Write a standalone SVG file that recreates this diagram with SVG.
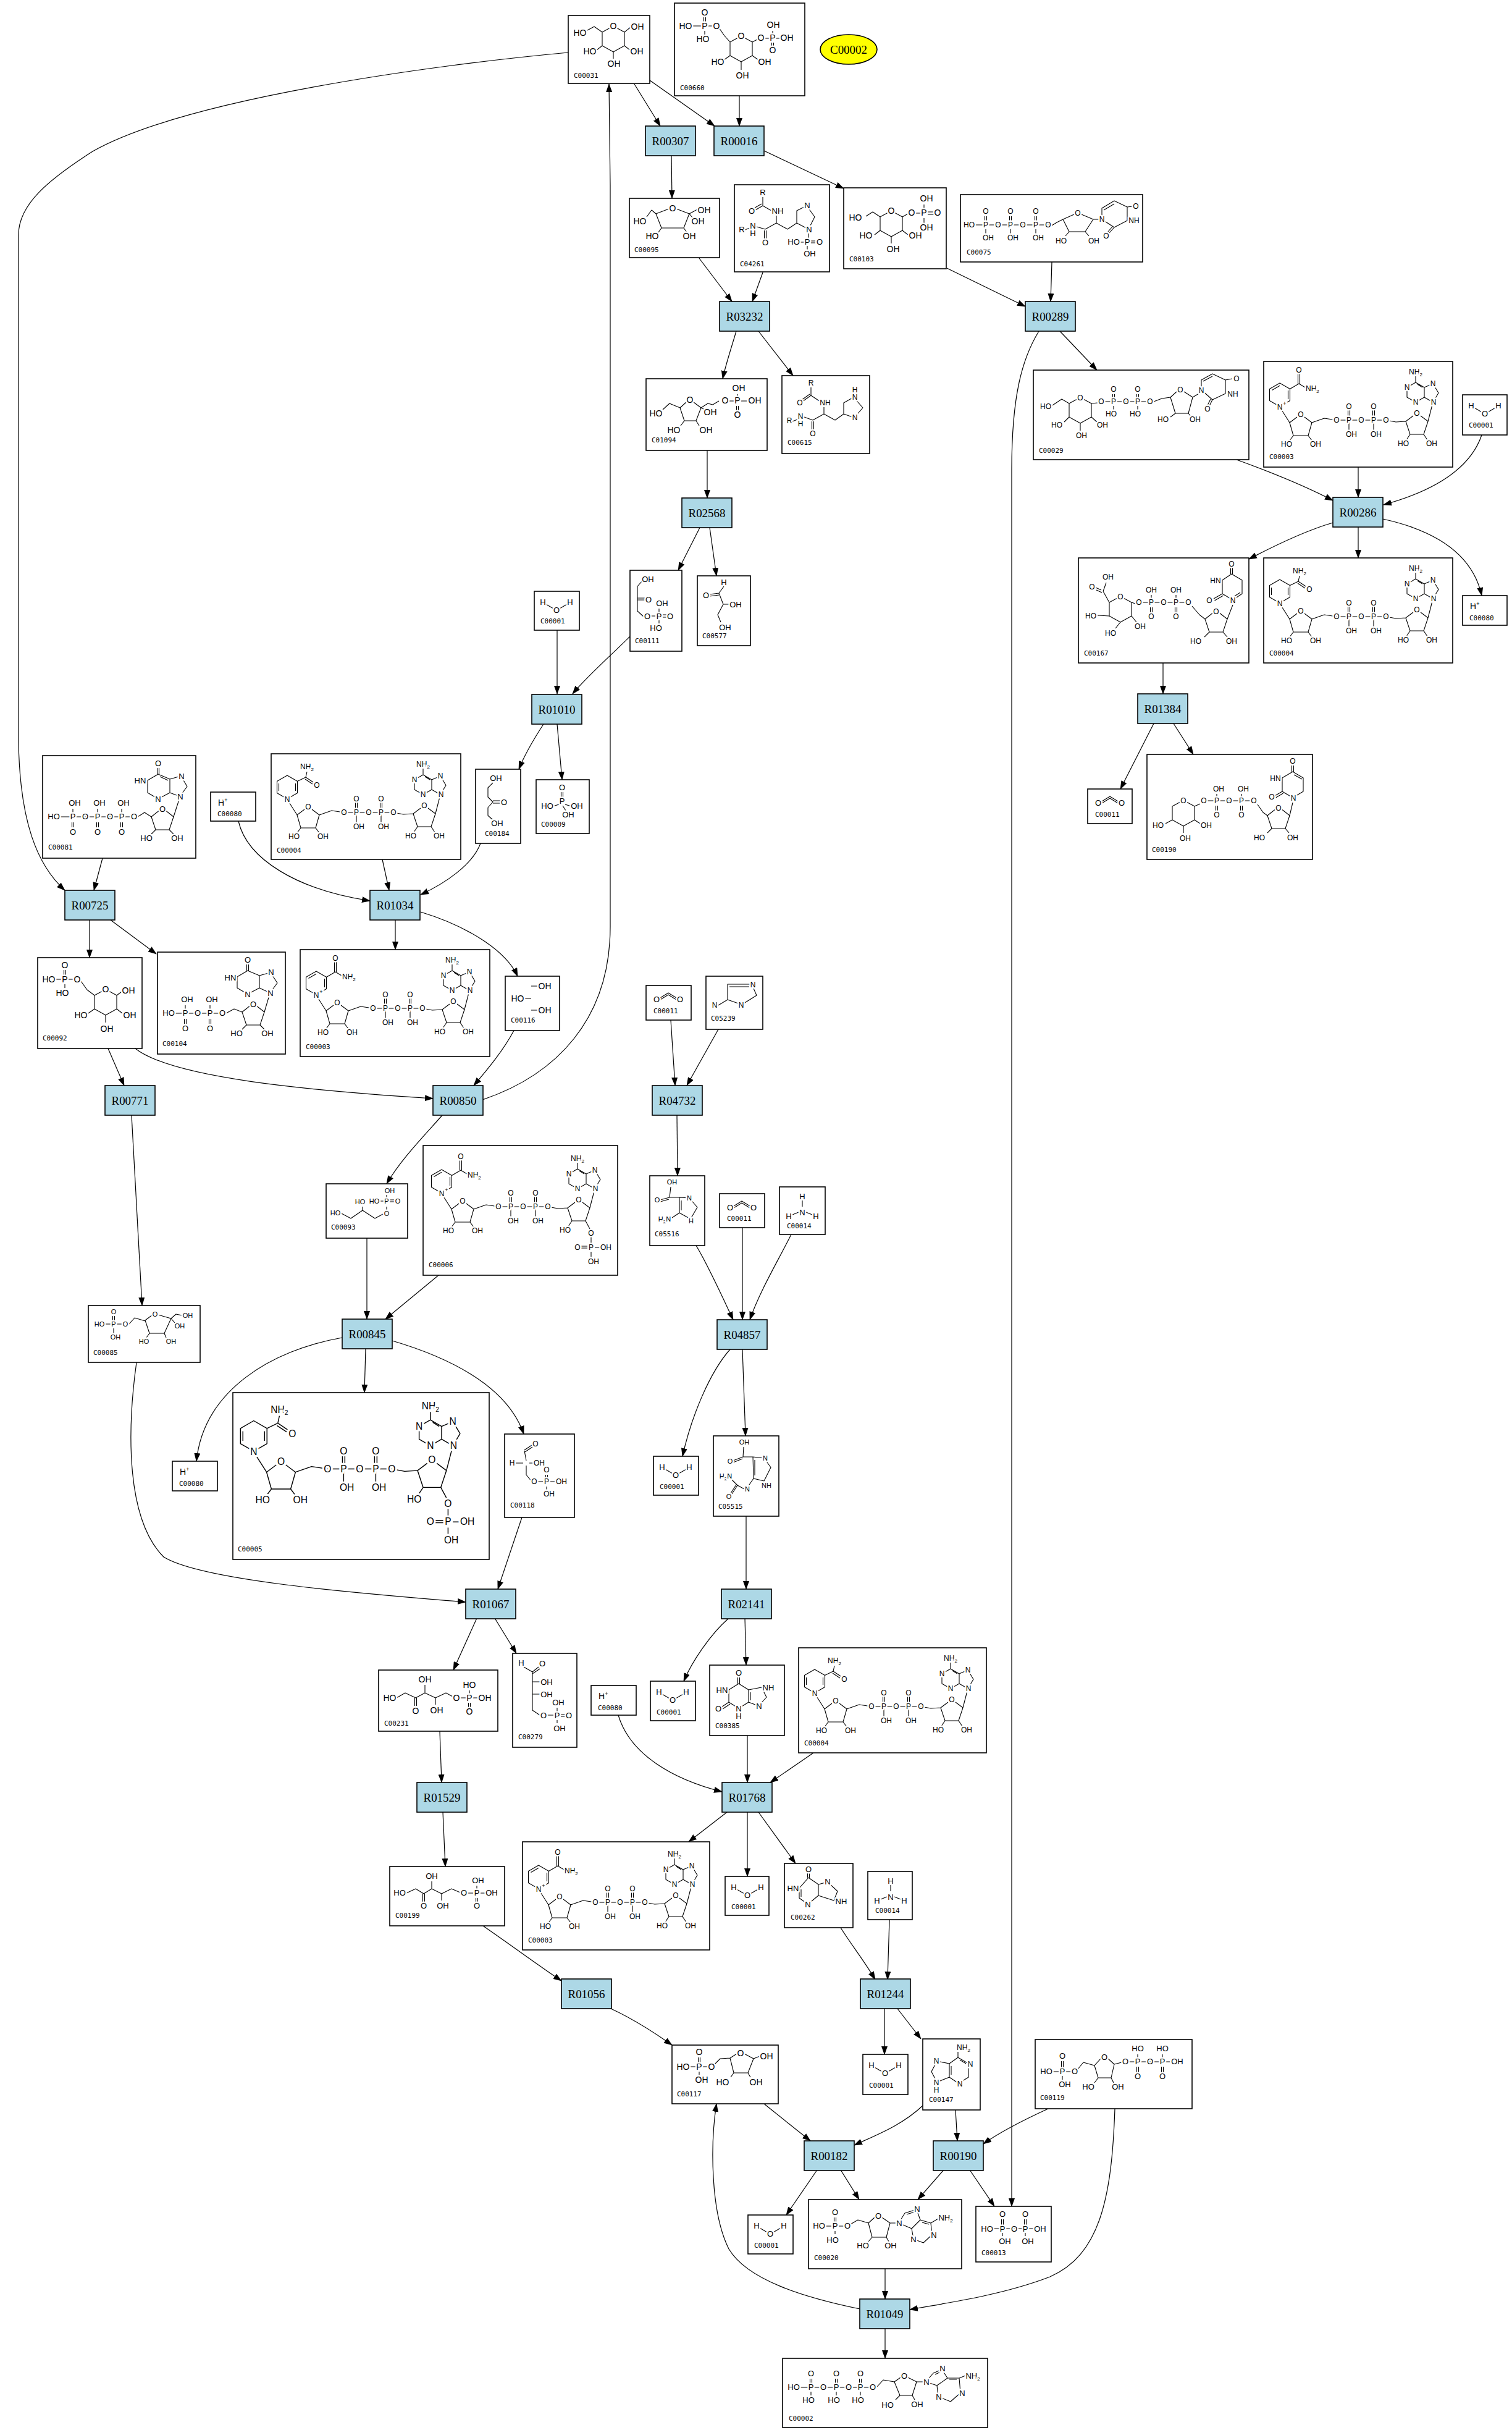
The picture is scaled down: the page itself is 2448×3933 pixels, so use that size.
<svg xmlns="http://www.w3.org/2000/svg" xmlns:xlink="http://www.w3.org/1999/xlink" width="2448" height="3933" viewBox="0 0 2448 3933">
<style>
.c{fill:#fff;stroke:#000;stroke-width:1.6}
.r{fill:#add8e6;stroke:#000;stroke-width:1.6}
.rt{font-family:"Liberation Serif","Times New Roman",serif;font-size:19px;text-anchor:middle;fill:#000}
.id{font-family:"DejaVu Sans Mono","Liberation Mono",monospace;font-size:11px;fill:#000}
.s{font-family:"Liberation Sans",Arial,sans-serif;text-anchor:middle;stroke:#fff;stroke-width:5px;stroke-linejoin:round;paint-order:stroke}
.s path{fill:none;stroke:#000;stroke-width:1.1px}
.e path{fill:none;stroke:#000;stroke-width:1.2px;marker-end:url(#ah)}
</style>
<defs>
<marker id="ah" markerWidth="14" markerHeight="10" refX="13" refY="5" orient="auto" markerUnits="userSpaceOnUse"><path d="M0,0L14,5L0,10Z" fill="#000" stroke="none"/></marker>
<g id="pyr"><path fill="none" stroke="#000" stroke-width="1.1" d="M12,3.5L0,10V32L18,42L36,32V10L24,3.5"/><text x="18" y="5" text-anchor="middle">O</text></g>
<g id="fur"><path fill="none" stroke="#000" stroke-width="1.1" d="M12,3.5L0,13L7,34H29L36,13L24,3.5"/><text x="18" y="5" text-anchor="middle">O</text></g>
<g id="water" font-size="13" text-anchor="middle"><path fill="none" stroke="#000" stroke-width="1.1" d="M19,21L31,28M41,28L53,21"/><text x="14" y="22">H</text><text x="36" y="35">O</text><text x="58" y="22">H</text></g>
<g id="hplus"><text x="12" y="22" font-size="14" text-anchor="start">H<tspan dy="-6" font-size="9">+</tspan></text></g>
<g id="co2" font-size="13" text-anchor="middle"><path fill="none" stroke="#000" stroke-width="1.1" d="M23,20L36,12L49,20M23,23L36,15L49,23"/><text x="17" y="27">O</text><text x="55" y="27">O</text></g>
<g id="nh3" font-size="13" text-anchor="middle"><path fill="none" stroke="#000" stroke-width="1.1" d="M37,22V32M21,45L31,41M43,41L53,45"/><text x="37" y="20">H</text><text x="37" y="46">N</text><text x="15" y="52">H</text><text x="59" y="52">H</text></g>
<g id="dn" font-size="12" text-anchor="middle"><path fill="none" stroke="#000" stroke-width="1.1" d="M54,90L42,99L48,120H72L78,99L66,90M48,120L42,128M72,120L78,128M78,99L98,92L118,95H198M136.5,95V79M139.5,95V79M176.5,95V79M179.5,95V79M138,95V112M178,95V112M198,95L214,98L230,97M242,88L230,97L237,118H259L266,97L254,88M237,118L231,127M266,97L274,66M246,34L232,42V58L246,66L260,58V42ZM260,42L274,36L283,51L274,66L260,58M246,34V24M249,37L257,42"/><text x="60" y="90">O</text><text x="37" y="138">HO</text><text x="84" y="138">OH</text><text x="118" y="99">O</text><text x="138" y="99">P</text><text x="158" y="99">O</text><text x="178" y="99">P</text><text x="198" y="99">O</text><text x="138" y="77">O</text><text x="178" y="77">O</text><text x="142" y="122">OH</text><text x="182" y="122">OH</text><text x="248" y="88">O</text><text x="226" y="137">HO</text><text x="232" y="46">N</text><text x="246" y="70">N</text><text x="274" y="40">N</text><text x="275" y="70">N</text><text x="246" y="21">NH<tspan font-size="8" dy="3">2</tspan></text></g>
<g id="hp" font-size="12" text-anchor="middle"><path fill="none" stroke="#000" stroke-width="1.1" d="M26,35L42.5,44.5V63.5L26,73L9.5,63.5V44.5ZM13.5,46.5L26,39.3M39.5,47V61M42.5,44.5L57,36M55.5,36V20M58.5,36V20M57,36L67,42M28,77L42,99"/><text x="57" y="18">O</text><text x="68" y="48" text-anchor="start">NH<tspan font-size="8" dy="3">2</tspan></text><text x="26" y="78">N</text><text x="34" y="71" font-size="9">+</text></g>
<g id="hh" font-size="12" text-anchor="middle"><path fill="none" stroke="#000" stroke-width="1.1" d="M26,35L42.5,44.5V63.5L26,73L9.5,63.5V44.5ZM12.5,48V60M39.5,48V60M42.5,44.5L56,38L58,29M56,38L68,46M55,41L67,49M28,77L42,99"/><text x="58" y="25">NH<tspan font-size="8" dy="3">2</tspan></text><text x="74" y="55">O</text><text x="26" y="78">N</text></g>
<g id="oh2" font-size="12" text-anchor="middle"><path fill="none" stroke="#000" stroke-width="1.1" d="M259,118L265,127"/><text x="272" y="137">OH</text></g>
<g id="pbr" font-size="12" text-anchor="middle"><path fill="none" stroke="#000" stroke-width="1.1" d="M259,118L266,131M268,144V155M252,159H262M252,162H262M274,161H282M268,168V176"/><text x="268" y="142">O</text><text x="268" y="165">P</text><text x="246" y="165">O</text><text x="292" y="165">OH</text><text x="272" y="188">OH</text></g>
<g id="nad"><use href="#hp"/><use href="#dn"/><use href="#oh2"/></g>
<g id="nadh"><use href="#hh"/><use href="#dn"/><use href="#oh2"/></g>
<g id="nadpp"><use href="#hp"/><use href="#dn"/><use href="#pbr"/></g>
<g id="nadph"><use href="#hh"/><use href="#dn"/><use href="#pbr"/></g>
</defs>
<rect width="2448" height="3933" fill="#fff"/>
<g id="edges" class="e">
<path d="M1027,136L1069,204"/>
<path d="M1052,130L1157,204"/>
<path d="M1197,155L1197,204"/>
<path d="M781,1780C900,1740 988,1650 988,1500L988,300L986,136"/>
<path d="M920,85C700,105 300,160 150,245C80,290 30,330 30,380L30,1200C32,1330 60,1400 105,1441"/>
<path d="M1087,251L1088,321"/>
<path d="M1237,244L1366,305"/>
<path d="M1132,418L1185,488"/>
<path d="M1235,441L1218,488"/>
<path d="M1533,434L1660,496"/>
<path d="M1703,424L1701,488"/>
<path d="M1192,536C1185,560 1175,590 1170,613"/>
<path d="M1228,536L1284,608"/>
<path d="M1716,536L1776,599"/>
<path d="M1682,536C1655,580 1638,640 1638,760L1638,3571"/>
<path d="M2002,744C2060,765 2110,785 2158,810"/>
<path d="M2199,756L2199,805"/>
<path d="M2399,704C2380,760 2320,795 2240,817"/>
<path d="M2158,846C2110,860 2060,885 2022,905"/>
<path d="M2199,853L2199,903"/>
<path d="M2239,840C2330,860 2385,900 2399,964"/>
<path d="M1883,1073L1883,1123"/>
<path d="M1868,1171L1814,1277"/>
<path d="M1900,1171L1932,1221"/>
<path d="M1145,729L1145,806"/>
<path d="M1133,854L1098,923"/>
<path d="M1149,854L1160,932"/>
<path d="M902,1020L902,1123"/>
<path d="M1020,1030C990,1060 950,1095 927,1123"/>
<path d="M880,1172C865,1195 850,1220 840,1245"/>
<path d="M902,1172L910,1262"/>
<path d="M166,1389L152,1441"/>
<path d="M386,1329C400,1390 480,1440 599,1458"/>
<path d="M619,1391L630,1441"/>
<path d="M778,1365C765,1400 720,1430 681,1448"/>
<path d="M145,1489L145,1550"/>
<path d="M179,1489L253,1544"/>
<path d="M640,1489L640,1537"/>
<path d="M681,1476C760,1500 820,1540 838,1580"/>
<path d="M175,1697L201,1757"/>
<path d="M219,1697C280,1745 500,1765 701,1778"/>
<path d="M832,1668C815,1700 790,1730 767,1757"/>
<path d="M716,1805C690,1835 650,1875 626,1916"/>
<path d="M213,1805L230,2113"/>
<path d="M594,2004L594,2135"/>
<path d="M710,2064L624,2135"/>
<path d="M554,2165C440,2185 330,2250 318,2365"/>
<path d="M592,2183L590,2254"/>
<path d="M635,2170C720,2195 820,2240 848,2321"/>
<path d="M221,2205C205,2320 205,2460 265,2520C330,2560 600,2580 754,2593"/>
<path d="M845,2456L806,2572"/>
<path d="M772,2619L734,2703"/>
<path d="M801,2619L836,2676"/>
<path d="M712,2802L715,2885"/>
<path d="M717,2933L721,3021"/>
<path d="M782,3117C830,3150 870,3180 909,3206"/>
<path d="M989,3251C1030,3270 1060,3290 1088,3310"/>
<path d="M1086,1651L1093,1757"/>
<path d="M1163,1666L1112,1757"/>
<path d="M1096,1805L1097,1903"/>
<path d="M1127,2016C1145,2045 1170,2100 1187,2136"/>
<path d="M1202,1987L1202,2136"/>
<path d="M1281,1998C1260,2040 1230,2090 1214,2136"/>
<path d="M1182,2184C1150,2220 1120,2290 1105,2357"/>
<path d="M1202,2184L1207,2324"/>
<path d="M1208,2454L1208,2572"/>
<path d="M1180,2619C1150,2645 1120,2690 1107,2721"/>
<path d="M1206,2619L1208,2695"/>
<path d="M1001,2776C1020,2840 1090,2880 1169,2900"/>
<path d="M1210,2809L1210,2885"/>
<path d="M1317,2837L1247,2885"/>
<path d="M1177,2933L1115,2981"/>
<path d="M1210,2933L1210,3037"/>
<path d="M1228,2933L1288,3016"/>
<path d="M1361,3120C1380,3150 1400,3175 1417,3204"/>
<path d="M1440,3107L1437,3204"/>
<path d="M1432,3251L1432,3325"/>
<path d="M1453,3251L1491,3300"/>
<path d="M1237,3405L1312,3465"/>
<path d="M1494,3408C1460,3440 1420,3455 1383,3472"/>
<path d="M1547,3415L1550,3465"/>
<path d="M1697,3413C1660,3430 1620,3450 1592,3470"/>
<path d="M1323,3512L1273,3585"/>
<path d="M1361,3512L1391,3560"/>
<path d="M1528,3512L1486,3560"/>
<path d="M1570,3512L1610,3571"/>
<path d="M1433,3672L1433,3721"/>
<path d="M1805,3413C1800,3560 1780,3650 1700,3685C1630,3712 1550,3725 1473,3738"/>
<path d="M1392,3737C1300,3718 1210,3690 1180,3640C1150,3580 1150,3470 1160,3405"/>
<path d="M1433,3768L1433,3817"/>
</g>
<g id="R00307"><rect class="r" x="1045" y="204" width="81" height="48"/><text class="rt" x="1085.5" y="235" textLength="60" lengthAdjust="spacingAndGlyphs">R00307</text></g>
<g id="R00016"><rect class="r" x="1156" y="204" width="81" height="48"/><text class="rt" x="1196.5" y="235" textLength="60" lengthAdjust="spacingAndGlyphs">R00016</text></g>
<g id="R03232"><rect class="r" x="1165" y="488" width="81" height="48"/><text class="rt" x="1205.5" y="519" textLength="60" lengthAdjust="spacingAndGlyphs">R03232</text></g>
<g id="R00289"><rect class="r" x="1660" y="488" width="81" height="48"/><text class="rt" x="1700.5" y="519" textLength="60" lengthAdjust="spacingAndGlyphs">R00289</text></g>
<g id="R02568"><rect class="r" x="1104" y="806" width="81" height="48"/><text class="rt" x="1144.5" y="837" textLength="60" lengthAdjust="spacingAndGlyphs">R02568</text></g>
<g id="R00286"><rect class="r" x="2158" y="805" width="81" height="48"/><text class="rt" x="2198.5" y="836" textLength="60" lengthAdjust="spacingAndGlyphs">R00286</text></g>
<g id="R01010"><rect class="r" x="861" y="1124" width="81" height="48"/><text class="rt" x="901.5" y="1155" textLength="60" lengthAdjust="spacingAndGlyphs">R01010</text></g>
<g id="R01384"><rect class="r" x="1842" y="1123" width="81" height="48"/><text class="rt" x="1882.5" y="1154" textLength="60" lengthAdjust="spacingAndGlyphs">R01384</text></g>
<g id="R00725"><rect class="r" x="105" y="1441" width="81" height="48"/><text class="rt" x="145.5" y="1472" textLength="60" lengthAdjust="spacingAndGlyphs">R00725</text></g>
<g id="R01034"><rect class="r" x="599" y="1441" width="81" height="48"/><text class="rt" x="639.5" y="1472" textLength="60" lengthAdjust="spacingAndGlyphs">R01034</text></g>
<g id="R00771"><rect class="r" x="170" y="1757" width="81" height="48"/><text class="rt" x="210.5" y="1788" textLength="60" lengthAdjust="spacingAndGlyphs">R00771</text></g>
<g id="R00850"><rect class="r" x="701" y="1757" width="81" height="48"/><text class="rt" x="741.5" y="1788" textLength="60" lengthAdjust="spacingAndGlyphs">R00850</text></g>
<g id="R04732"><rect class="r" x="1056" y="1757" width="81" height="48"/><text class="rt" x="1096.5" y="1788" textLength="60" lengthAdjust="spacingAndGlyphs">R04732</text></g>
<g id="R00845"><rect class="r" x="554" y="2135" width="81" height="48"/><text class="rt" x="594.5" y="2166" textLength="60" lengthAdjust="spacingAndGlyphs">R00845</text></g>
<g id="R04857"><rect class="r" x="1161" y="2136" width="81" height="48"/><text class="rt" x="1201.5" y="2167" textLength="60" lengthAdjust="spacingAndGlyphs">R04857</text></g>
<g id="R01067"><rect class="r" x="754" y="2572" width="81" height="48"/><text class="rt" x="794.5" y="2603" textLength="60" lengthAdjust="spacingAndGlyphs">R01067</text></g>
<g id="R02141"><rect class="r" x="1168" y="2572" width="81" height="48"/><text class="rt" x="1208.5" y="2603" textLength="60" lengthAdjust="spacingAndGlyphs">R02141</text></g>
<g id="R01529"><rect class="r" x="675" y="2885" width="81" height="48"/><text class="rt" x="715.5" y="2916" textLength="60" lengthAdjust="spacingAndGlyphs">R01529</text></g>
<g id="R01768"><rect class="r" x="1169" y="2885" width="81" height="48"/><text class="rt" x="1209.5" y="2916" textLength="60" lengthAdjust="spacingAndGlyphs">R01768</text></g>
<g id="R01056"><rect class="r" x="909" y="3203" width="81" height="48"/><text class="rt" x="949.5" y="3234" textLength="60" lengthAdjust="spacingAndGlyphs">R01056</text></g>
<g id="R01244"><rect class="r" x="1393" y="3203" width="81" height="48"/><text class="rt" x="1433.5" y="3234" textLength="60" lengthAdjust="spacingAndGlyphs">R01244</text></g>
<g id="R00182"><rect class="r" x="1302" y="3465" width="81" height="48"/><text class="rt" x="1342.5" y="3496" textLength="60" lengthAdjust="spacingAndGlyphs">R00182</text></g>
<g id="R00190"><rect class="r" x="1511" y="3465" width="81" height="48"/><text class="rt" x="1551.5" y="3496" textLength="60" lengthAdjust="spacingAndGlyphs">R00190</text></g>
<g id="R01049"><rect class="r" x="1392" y="3721" width="81" height="48"/><text class="rt" x="1432.5" y="3752" textLength="60" lengthAdjust="spacingAndGlyphs">R01049</text></g>
<g id="C00002"><ellipse cx="1374" cy="80" rx="46" ry="24" fill="#ffff00" stroke="#000" stroke-width="1.6"/><text class="rt" x="1374" y="87" textLength="60" lengthAdjust="spacingAndGlyphs">C00002</text></g>
<g id="C00031" transform="translate(920,25)"><rect class="c" width="132" height="110"/><g class="s" font-size="14"><use href="#pyr" x="55" y="17"/><path d="M55,27L42,18L31,24M91,27L101,19M55,49L46,56M91,49L100,56M73,59V70"/><text x="19" y="33">HO</text><text x="112" y="23">OH</text><text x="35" y="63">HO</text><text x="111" y="63">OH</text><text x="74" y="83">OH</text></g><text class="id" x="9" y="101">C00031</text></g>
<g id="C00660" transform="translate(1092,5)"><rect class="c" width="211" height="150"/><g class="s" font-size="14"><use href="#pyr" x="90" y="53"/><path d="M47.5,23V31M50.5,23V31M29,37H44M54,37H63M49,45V51M72,40L81,53L90,63M126,63L134,59M145,57H154M164,57H171M159,52V45M157.5,64V70M160.5,64V70M90,85L80,92M126,85L136,92M108,95V108"/><text x="49" y="20">O</text><text x="18" y="42">HO</text><text x="49" y="42">P</text><text x="68" y="42">O</text><text x="46" y="63">HO</text><text x="140" y="61">O</text><text x="159" y="61">P</text><text x="182" y="61">OH</text><text x="160" y="40">OH</text><text x="159" y="81">O</text><text x="70" y="100">HO</text><text x="146" y="100">OH</text><text x="110" y="122">OH</text></g><text class="id" x="9" y="141">C00660</text></g>
<g id="C00095" transform="translate(1019,321)"><rect class="c" width="146" height="96"/><g class="s" font-size="14"><path d="M64,17L43,25L52,48H88L97,25L76,17M43,25L36,19L28,30M97,25L110,18M97,25L102,31M52,48L47,55M88,48L93,55"/><text x="70" y="21">O</text><text x="17" y="42">HO</text><text x="121" y="24">OH</text><text x="111" y="42">OH</text><text x="37" y="66">HO</text><text x="97" y="66">OH</text></g><text class="id" x="8" y="87">C00095</text></g>
<g id="C04261" transform="translate(1189,299)"><rect class="c" width="154" height="141"/><g class="s" font-size="13"><path d="M46,20V34M46,34L32,42M44,31L30,39M46,34L60,42M68,50V62M68,62L50,72M48.5,74V87M51.5,74V87M50,72L36,68M17,73L25,70M68,62L86,72L101,62M101,62V42L117,34L130,52L120,72ZM120,78V86M106,93H113M124,91H131M124,94H131M118,99V105"/><text x="46" y="17">R</text><text x="28" y="47">O</text><text x="70" y="47">NH</text><text x="50" y="98">O</text><text x="30" y="71">N</text><text x="30" y="83">H</text><text x="12" y="77">R</text><text x="118" y="38">N</text><text x="121" y="77">N</text><text x="118" y="97">P</text><text x="96" y="97">HO</text><text x="138" y="97">O</text><text x="122" y="116">OH</text></g><text class="id" x="9" y="132">C04261</text></g>
<g id="C00103" transform="translate(1366,304)"><rect class="c" width="166" height="131"/><g class="s" font-size="14"><use href="#pyr" x="59" y="37"/><path d="M59,47L47,39L36,46M95,47L104,42M116,41H125M136,39H146M136,43H146M130,35V27M130,49V57M59,69L50,76M95,69L104,76M77,79V90"/><text x="19" y="53">HO</text><text x="110" y="45">O</text><text x="130" y="45">P</text><text x="152" y="45">O</text><text x="134" y="22">OH</text><text x="134" y="69">OH</text><text x="36" y="82">HO</text><text x="116" y="82">OH</text><text x="80" y="104">OH</text></g><text class="id" x="9" y="119">C00103</text></g>
<g id="C00075" transform="translate(1555,315)"><rect class="c" width="295" height="109"/><g class="s" font-size="12"><path d="M22,49H150M39.5,35V44M42.5,35V44M79.5,35V44M82.5,35V44M120.5,35V44M123.5,35V44M41,56V63M81,56V63M122,56V63M148,50L156,45L166,40M166,40L184,32M196,32L215,40L202,60H176L166,40M176,60L170,67M202,60L208,67M215,40L224,40M229,40V22L249,10L270,20V42L249,53ZM232,25L249,15M270,20L279,19M249,53L241,62M246,52L238,61"/><text x="14" y="53">HO</text><text x="41" y="53">P</text><text x="61" y="53">O</text><text x="81" y="53">P</text><text x="101" y="53">O</text><text x="122" y="53">P</text><text x="142" y="53">O</text><text x="41" y="31">O</text><text x="81" y="31">O</text><text x="122" y="31">O</text><text x="45" y="74">OH</text><text x="85" y="74">OH</text><text x="126" y="74">OH</text><text x="190" y="34">O</text><text x="163" y="79">HO</text><text x="216" y="79">OH</text><text x="229" y="44">N</text><text x="284" y="23">O</text><text x="281" y="46">NH</text><text x="236" y="71">O</text></g><text class="id" x="10" y="97">C00075</text></g>
<g id="C01094" transform="translate(1046,613)"><rect class="c" width="196" height="116"/><g class="s" font-size="14"><path d="M65,38L55,47L62,68H81L89,47L77,38M55,47L38,40L27,50M89,47L100,40L108,42L118,36M134,36H142M154,36H163M148,31V25M146.5,44V52M149.5,44V52M89,47L95,50M62,68L56,76M81,68L86,76"/><text x="71" y="39">O</text><text x="16" y="61">HO</text><text x="128" y="40">O</text><text x="148" y="40">P</text><text x="150" y="20">OH</text><text x="176" y="40">OH</text><text x="148" y="63">O</text><text x="104" y="59">OH</text><text x="45" y="88">HO</text><text x="97" y="88">OH</text></g><text class="id" x="9" y="103">C01094</text></g>
<g id="C00615" transform="translate(1266,608)"><rect class="c" width="142" height="126"/><g class="s" font-size="12"><path d="M47,19V32M47,32L33,42M45,30L31,40M47,32L62,42M68,51V62M68,62L50,72M48.5,74V87M51.5,74V87M50,72L36,67M17,74L25,71M68,62L86,72L100,62M100,62V44L116,35L131,52L117,68Z"/><text x="47" y="16">R</text><text x="29" y="48">O</text><text x="70" y="48">NH</text><text x="50" y="98">O</text><text x="30" y="70">N</text><text x="30" y="82">H</text><text x="12" y="77">R</text><text x="118" y="27">H</text><text x="118" y="39">N</text><text x="118" y="72">N</text></g><text class="id" x="9" y="112">C00615</text></g>
<g id="C00029" transform="translate(1673,599)"><rect class="c" width="349" height="145"/><g class="s" font-size="12"><use href="#pyr" x="58" y="44"/><path d="M58,54L46,47L31,57M58,76L50,84M94,76L103,84M76,86V98M94,54L104,53M116,51H183M128.5,39V47M131.5,39V47M167.5,39V47M170.5,39V47M130,58V64M169,58V64M195,51L208,46L222,44M222,44L232,35M244,35L258,44L251,70H230L222,44M230,70L222,76M251,70L256,76M258,44L268,38M272,32V16L290,6L311,16V38L290,48ZM275,18L290,10M311,16L322,14M290,48L285,58M287,47L282,57"/><text x="20" y="63">HO</text><text x="38" y="93">HO</text><text x="112" y="93">OH</text><text x="78" y="110">OH</text><text x="110" y="55">O</text><text x="130" y="55">P</text><text x="150" y="55">O</text><text x="169" y="55">P</text><text x="189" y="55">O</text><text x="130" y="35">O</text><text x="169" y="35">O</text><text x="126" y="75">HO</text><text x="165" y="75">HO</text><text x="238" y="36">O</text><text x="210" y="84">HO</text><text x="262" y="84">OH</text><text x="272" y="37">N</text><text x="323" y="43">NH</text><text x="329" y="18">O</text><text x="282" y="67">O</text></g><text class="id" x="9" y="134">C00029</text></g>
<g id="C00003_1" transform="translate(2046,585)"><rect class="c" width="306" height="171"/><g class="s"><use href="#nad"/></g><text class="id" x="9" y="158">C00003</text></g>
<g id="C00001_1" transform="translate(2368,639)"><rect class="c" width="72" height="65"/><g class="s"><use href="#water"/></g><text class="id" x="10" y="53">C00001</text></g>
<g id="C00167" transform="translate(1746,903)"><rect class="c" width="276" height="170"/><g class="s" font-size="12"><use href="#pyr" x="50" y="62"/><use href="#fur" x="205" y="86"/><path d="M50,72L40,54M37,52L28,48M38,56L29,52M40,54L45,40M50,94L31,93M68,104L60,114M86,94L94,104M86,72L92,74M104,72H172M118,68V60M158,68V60M116.5,80V89M119.5,80V89M156.5,80V89M159.5,80V89M184,78L196,92L205,99M212,120L204,128M234,120L241,128M241,99L250,76M248,26L265,36V58L250,68L233,58V36ZM246.5,26V16M249.5,26V16M233,58L219,66M234.5,61L220.5,69M251,63L262,56"/><text x="22" y="51">O</text><text x="48" y="35">OH</text><text x="20" y="98">HO</text><text x="52" y="126">HO</text><text x="100" y="115">OH</text><text x="98" y="76">O</text><text x="118" y="76">P</text><text x="138" y="76">O</text><text x="158" y="76">P</text><text x="178" y="76">O</text><text x="118" y="56">OH</text><text x="158" y="56">OH</text><text x="118" y="99">O</text><text x="158" y="99">O</text><text x="190" y="139">HO</text><text x="248" y="139">OH</text><text x="248" y="14">O</text><text x="222" y="41">HN</text><text x="212" y="73">O</text><text x="250" y="73">N</text></g><text class="id" x="9" y="158">C00167</text></g>
<g id="C00004_1" transform="translate(2046,903)"><rect class="c" width="306" height="170"/><g class="s"><use href="#nadh"/></g><text class="id" x="9" y="158">C00004</text></g>
<g id="C00080_1" transform="translate(2368,964)"><rect class="c" width="72" height="48"/><g class="s"><use href="#hplus"/></g><text class="id" x="11" y="40">C00080</text></g>
<g id="C00011_1" transform="translate(1761,1277)"><rect class="c" width="72" height="56"/><g class="s"><use href="#co2"/></g><text class="id" x="12" y="45">C00011</text></g>
<g id="C00190" transform="translate(1857,1221)"><rect class="c" width="268" height="170"/><g class="s" font-size="12"><use href="#pyr" x="41" y="74"/><use href="#fur" x="195" y="86"/><path d="M41,106L30,112M77,106L86,112M59,116V127M77,84L86,80M98,75H167M113,71V64M153,71V64M111.5,83V92M114.5,83V92M151.5,83V92M154.5,83V92M179,81L188,94L195,99M202,120L195,127M224,120L230,127M231,99L236,78M236,28L253,38V60L236,70L219,60V38ZM234.5,28V18M237.5,28V18M219,60L207,67M220.5,63L208.5,70M238,33L251,40"/><text x="18" y="119">HO</text><text x="96" y="119">OH</text><text x="62" y="140">OH</text><text x="92" y="79">O</text><text x="113" y="79">P</text><text x="133" y="79">O</text><text x="153" y="79">P</text><text x="173" y="79">O</text><text x="116" y="60">OH</text><text x="156" y="60">OH</text><text x="113" y="102">O</text><text x="153" y="102">O</text><text x="182" y="139">HO</text><text x="236" y="139">OH</text><text x="236" y="15">O</text><text x="208" y="43">HN</text><text x="202" y="73">O</text><text x="237" y="75">N</text></g><text class="id" x="8" y="158">C00190</text></g>
<g id="C00111" transform="translate(1020,923)"><rect class="c" width="84" height="131"/><g class="s" font-size="13"><path d="M20,17L12,26V66L22,75M12,45H24M12,48H24M34,74H41M53,72H59M53,76H59M47,68V62M47,81V86"/><text x="29" y="19">OH</text><text x="30" y="52">O</text><text x="28" y="79">O</text><text x="47" y="79">P</text><text x="65" y="79">O</text><text x="52" y="58">OH</text><text x="42" y="98">HO</text></g><text class="id" x="8" y="118">C00111</text></g>
<g id="C00577" transform="translate(1129,932)"><rect class="c" width="86" height="113"/><g class="s" font-size="13"><path d="M43,17L35,28M35,28L20,30M35,31L20,33M35,28L42,46M42,46H52M42,46L33,63L38,75"/><text x="43" y="15">H</text><text x="14" y="36">O</text><text x="62" y="51">OH</text><text x="45" y="88">OH</text></g><text class="id" x="8" y="101">C00577</text></g>
<g id="C00001_2" transform="translate(865,957)"><rect class="c" width="73" height="63"/><g class="s"><use href="#water"/></g><text class="id" x="10" y="52">C00001</text></g>
<g id="C00081" transform="translate(69,1223)"><rect class="c" width="248" height="166"/><g class="s" font-size="13"><use href="#fur" x="176" y="86"/><path d="M26,99H142M49,94V86M89,94V86M128,94V86M47.5,108V116M50.5,108V116M87.5,108V116M90.5,108V116M126.5,108V116M129.5,108V116M154,99L165,92L176,99M183,120L176,127M205,120L212,127M212,99L221,71M187,30L206,38V60L187,70L170,60V40ZM206,38L224,33L234,50L222,66L206,60M185.5,30V20M188.5,30V20M190,34L203,40"/><text x="18" y="103">HO</text><text x="49" y="103">P</text><text x="69" y="103">O</text><text x="89" y="103">P</text><text x="109" y="103">O</text><text x="128" y="103">P</text><text x="148" y="103">O</text><text x="52" y="81">OH</text><text x="92" y="81">OH</text><text x="131" y="81">OH</text><text x="49" y="128">O</text><text x="89" y="128">O</text><text x="128" y="128">O</text><text x="168" y="138">HO</text><text x="218" y="138">OH</text><text x="187" y="17">O</text><text x="158" y="45">HN</text><text x="187" y="75">N</text><text x="225" y="38">N</text><text x="223" y="71">N</text></g><text class="id" x="9" y="152">C00081</text></g>
<g id="C00080_2" transform="translate(341,1282)"><rect class="c" width="73" height="47"/><g class="s"><use href="#hplus"/></g><text class="id" x="11" y="39">C00080</text></g>
<g id="C00004_2" transform="translate(439,1220)"><rect class="c" width="307" height="171"/><g class="s"><use href="#nadh"/></g><text class="id" x="9" y="160">C00004</text></g>
<g id="C00184" transform="translate(770,1245)"><rect class="c" width="73" height="120"/><g class="s" font-size="13"><path d="M28,22L20,30V45L28,53L20,62V75L28,82M28,51H40M28,55H40"/><text x="33" y="19">OH</text><text x="46" y="58">O</text><text x="35" y="92">OH</text></g><text class="id" x="15" y="108">C00184</text></g>
<g id="C00009" transform="translate(868,1262)"><rect class="c" width="86" height="87"/><g class="s" font-size="13"><path d="M40.5,20V30M43.5,20V30M37,40L27,43M47,40L57,43M43,42L48,50"/><text x="42" y="17">O</text><text x="42" y="39">P</text><text x="18" y="47">HO</text><text x="66" y="47">OH</text><text x="52" y="61">OH</text></g><text class="id" x="8" y="76">C00009</text></g>
<g id="C00092" transform="translate(61,1550)"><rect class="c" width="169" height="147"/><g class="s" font-size="14"><use href="#pyr" x="92" y="51"/><path d="M42.5,20V29M45.5,20V29M29,35H38M50,35H58M44,43V49M70,38L80,52L92,61M128,61L136,55M92,83L82,90M128,83L137,90M110,93V105"/><text x="44" y="17">O</text><text x="18" y="40">HO</text><text x="44" y="40">P</text><text x="64" y="40">O</text><text x="40" y="62">HO</text><text x="147" y="58">OH</text><text x="70" y="98">HO</text><text x="149" y="98">OH</text><text x="112" y="120">OH</text></g><text class="id" x="8" y="134">C00092</text></g>
<g id="C00104" transform="translate(255,1541)"><rect class="c" width="207" height="165"/><g class="s" font-size="13"><use href="#fur" x="137" y="84"/><path d="M26,99H99M45,94V86M85,94V86M43.5,108V116M46.5,108V116M83.5,108V116M86.5,108V116M111,99L124,92L137,97M144,118L137,125M166,118L173,125M173,97L181,70M146,30L165,38V58L146,68L129,58V40ZM165,38L183,33L194,50L182,66L165,58M144.5,30V20M147.5,30V20"/><text x="18" y="103">HO</text><text x="45" y="103">P</text><text x="65" y="103">O</text><text x="85" y="103">P</text><text x="105" y="103">O</text><text x="48" y="81">OH</text><text x="88" y="81">OH</text><text x="45" y="128">O</text><text x="85" y="128">O</text><text x="128" y="136">HO</text><text x="178" y="136">OH</text><text x="146" y="17">O</text><text x="118" y="46">HN</text><text x="146" y="73">N</text><text x="184" y="37">N</text><text x="183" y="71">N</text></g><text class="id" x="8" y="152">C00104</text></g>
<g id="C00003_2" transform="translate(486,1537)"><rect class="c" width="307" height="173"/><g class="s"><use href="#nad"/></g><text class="id" x="9" y="161">C00003</text></g>
<g id="C00116" transform="translate(818,1580)"><rect class="c" width="88" height="88"/><g class="s" font-size="14"><path d="M42,16H52M32,36H42M42,55H52"/><text x="64" y="21">OH</text><text x="20" y="41">HO</text><text x="64" y="60">OH</text></g><text class="id" x="9" y="75">C00116</text></g>
<g id="C00093" transform="translate(528,1916)"><rect class="c" width="132" height="88"/><g class="s" font-size="11"><path d="M23,47L40,56L59,43L79,56L92,49M59,43V37M98,45V37M85,28H93M103,26H110M103,29H110M98,26V18"/><text x="15" y="51">HO</text><text x="55" y="33">HO</text><text x="98" y="52">O</text><text x="78" y="32">HO</text><text x="98" y="32">P</text><text x="116" y="32">O</text><text x="103" y="15">OH</text></g><text class="id" x="8" y="74">C00093</text></g>
<g id="C00006" transform="translate(685,1854)"><rect class="c" width="315" height="210"/><g class="s"><use href="#nadpp" transform="translate(4,4)"/></g><text class="id" x="9" y="197">C00006</text></g>
<g id="C00085" transform="translate(143,2113)"><rect class="c" width="181" height="92"/><g class="s" font-size="11"><path d="M39.5,17V26M42.5,17V26M26,30H36M46,30H55M41,37V45M65,31L75,20L92,25M104,15L92,24L99,45H123L134,21L113,15M134,21L142,14L152,16M134,21L140,28M99,45L94,52M123,45L126,52"/><text x="41" y="14">O</text><text x="18" y="34">HO</text><text x="41" y="34">P</text><text x="60" y="34">O</text><text x="44" y="55">OH</text><text x="108" y="18">O</text><text x="161" y="20">OH</text><text x="148" y="37">OH</text><text x="90" y="62">HO</text><text x="134" y="62">OH</text></g><text class="id" x="8" y="80">C00085</text></g>
<g id="C00080_3" transform="translate(279,2365)"><rect class="c" width="73" height="48"/><g class="s"><use href="#hplus"/></g><text class="id" x="11" y="40">C00080</text></g>
<g id="C00005" transform="translate(377,2254)"><rect class="c" width="415" height="270"/><g class="s"><use href="#nadph" transform="scale(1.3)"/></g><text class="id" x="8" y="257">C00005</text></g>
<g id="C00118" transform="translate(817,2321)"><rect class="c" width="113" height="135"/><g class="s" font-size="12"><path d="M32,26L44,18M33,29L45,21M32,27L35,43M18,47H30M40,47H48M35,51V66L44,77M54,77H62M74,77H82M66.5,66V73M69.5,66V73M68,85V90"/><text x="50" y="20">O</text><text x="12" y="51">H</text><text x="56" y="51">OH</text><text x="48" y="81">O</text><text x="68" y="81">P</text><text x="92" y="81">OH</text><text x="68" y="62">O</text><text x="72" y="101">OH</text></g><text class="id" x="9" y="119">C00118</text></g>
<g id="C00011_2" transform="translate(1046,1595)"><rect class="c" width="73" height="56"/><g class="s"><use href="#co2"/></g><text class="id" x="12" y="45">C00011</text></g>
<g id="C05239" transform="translate(1143,1580)"><rect class="c" width="92" height="86"/><g class="s" font-size="12"><path d="M35,38V13H74L82,31L58,46ZM38,17H70M20,47L35,38"/><text x="76" y="18">N</text><text x="57" y="51">N</text><text x="14" y="51">N</text></g><text class="id" x="8" y="72">C05239</text></g>
<g id="C05516" transform="translate(1052,1903)"><rect class="c" width="89" height="113"/><g class="s" font-size="11"><path d="M48,35L64,36L77,51L66,70L48,60ZM32,35H48M32,35L34,18M32,35L17,39M31,38L17,42M36,68L48,60M51,40V56"/><text x="36" y="14">OH</text><text x="12" y="43">O</text><text x="64" y="40">N</text><text x="67" y="77">H</text><text x="24" y="74">H<tspan font-size="8" dy="3">2</tspan><tspan dy="-3">N</tspan></text></g><text class="id" x="8" y="98">C05516</text></g>
<g id="C00011_3" transform="translate(1165,1932)"><rect class="c" width="73" height="55"/><g class="s"><use href="#co2"/></g><text class="id" x="12" y="44">C00011</text></g>
<g id="C00014_1" transform="translate(1262,1921)"><rect class="c" width="74" height="77"/><g class="s"><use href="#nh3"/></g><text class="id" x="12" y="67">C00014</text></g>
<g id="C00001_3" transform="translate(1058,2357)"><rect class="c" width="73" height="63"/><g class="s"><use href="#water"/></g><text class="id" x="10" y="53">C00001</text></g>
<g id="C05515" transform="translate(1155,2324)"><rect class="c" width="106" height="130"/><g class="s" font-size="11"><path d="M48,34L49,18M48,34L32,40M47,37L32,43M48,34H64M64,34L82,36L93,51L82,73L65,69ZM65,69L56,82M50,86L39,80M39,80L30,71M39,80L30,94M37,79L28,93M67,39V64"/><text x="50" y="14">OH</text><text x="27" y="45">O</text><text x="84" y="40">N</text><text x="86" y="84">NH</text><text x="55" y="90">N</text><text x="20" y="69">H<tspan font-size="8" dy="3">2</tspan><tspan dy="-3">N</tspan></text><text x="25" y="102">O</text></g><text class="id" x="8" y="118">C05515</text></g>
<g id="C00231" transform="translate(613,2703)"><rect class="c" width="193" height="99"/><g class="s" font-size="14"><path d="M29,45L43,37L60,45L75,37L92,45L109,37L120,43M58.5,45V58M61.5,45V58M75,37V24M92,45V56M132,45H141M153,45H161M147,40V33M145.5,53V60M148.5,53V60"/><text x="18" y="50">HO</text><text x="60" y="71">O</text><text x="75" y="20">OH</text><text x="94" y="70">OH</text><text x="126" y="50">O</text><text x="147" y="50">P</text><text x="172" y="50">OH</text><text x="147" y="29">HO</text><text x="147" y="72">O</text></g><text class="id" x="9" y="90">C00231</text></g>
<g id="C00279" transform="translate(830,2676)"><rect class="c" width="104" height="152"/><g class="s" font-size="13"><path d="M18,22L32,30M32,30L42,22M32,33L44,25M32,30V92L44,100M32,46H44M32,66H44M56,100H66M78,99H86M78,102H86M72,95V88M72,108V113"/><text x="14" y="20">H</text><text x="48" y="21">O</text><text x="55" y="51">OH</text><text x="55" y="71">OH</text><text x="50" y="105">O</text><text x="72" y="105">P</text><text x="74" y="84">OH</text><text x="91" y="105">O</text><text x="76" y="126">OH</text></g><text class="id" x="9" y="139">C00279</text></g>
<g id="C00080_4" transform="translate(957,2728)"><rect class="c" width="73" height="48"/><g class="s"><use href="#hplus"/></g><text class="id" x="11" y="40">C00080</text></g>
<g id="C00001_4" transform="translate(1053,2721)"><rect class="c" width="73" height="64"/><g class="s"><use href="#water"/></g><text class="id" x="10" y="54">C00001</text></g>
<g id="C00385" transform="translate(1149,2695)"><rect class="c" width="121" height="114"/><g class="s" font-size="13"><path d="M47,30L63,40V60L47,70L31,60V40ZM63,40L84,36L92,52L79,66L63,60M45.5,30V20M48.5,30V20M31,60L19,68M33,63L21,71M66,44V57"/><text x="47" y="17">O</text><text x="20" y="45">HN</text><text x="14" y="75">O</text><text x="47" y="75">N</text><text x="47" y="87">H</text><text x="95" y="41">NH</text><text x="80" y="71">N</text></g><text class="id" x="9" y="102">C00385</text></g>
<g id="C00004_3" transform="translate(1293,2667)"><rect class="c" width="304" height="170"/><g class="s"><use href="#nadh"/></g><text class="id" x="9" y="158">C00004</text></g>
<g id="C00199" transform="translate(631,3021)"><rect class="c" width="186" height="96"/><g class="s" font-size="13"><path d="M27,43L42,36L55,44L68,36L84,44L100,36L114,42M53.5,44V57M56.5,44V57M68,36V24M84,44V55M126,43H135M147,43H155M141,38V31M139.5,51V58M142.5,51V58"/><text x="16" y="47">HO</text><text x="55" y="68">O</text><text x="68" y="20">OH</text><text x="86" y="68">OH</text><text x="120" y="47">O</text><text x="141" y="47">P</text><text x="165" y="47">OH</text><text x="143" y="27">OH</text><text x="141" y="68">O</text></g><text class="id" x="9" y="83">C00199</text></g>
<g id="C00003_3" transform="translate(846,2981)"><rect class="c" width="303" height="175"/><g class="s"><use href="#nad" transform="translate(0,3)"/></g><text class="id" x="9" y="163">C00003</text></g>
<g id="C00001_5" transform="translate(1174,3037)"><rect class="c" width="71" height="63"/><g class="s"><use href="#water"/></g><text class="id" x="10" y="53">C00001</text></g>
<g id="C00262" transform="translate(1270,3016)"><rect class="c" width="111" height="104"/><g class="s" font-size="13"><path d="M39,23L55,34V52L38,66L24,56V40ZM55,34L70,30L86,45L80,60L55,52M37.5,23V16M40.5,23V16M27,54V42"/><text x="39" y="14">O</text><text x="14" y="45">HN</text><text x="38" y="71">N</text><text x="70" y="34">N</text><text x="92" y="66">NH</text></g><text class="id" x="10" y="91">C00262</text></g>
<g id="C00014_2" transform="translate(1405,3029)"><rect class="c" width="72" height="78"/><g class="s"><use href="#nh3"/></g><text class="id" x="12" y="67">C00014</text></g>
<g id="C00117" transform="translate(1088,3310)"><rect class="c" width="172" height="95"/><g class="s" font-size="14"><path d="M42.5,20V29M45.5,20V29M29,35H38M50,35H58M44,43V48M69,31L78,22L94,21M105,14L94,21L100,45H123L132,22L117,14M132,22L142,18M100,45L95,52M123,45L127,52"/><text x="44" y="16">O</text><text x="18" y="40">HO</text><text x="44" y="40">P</text><text x="64" y="40">O</text><text x="48" y="61">OH</text><text x="111" y="18">O</text><text x="153" y="23">OH</text><text x="82" y="65">HO</text><text x="136" y="65">OH</text></g><text class="id" x="8" y="83">C00117</text></g>
<g id="C00001_6" transform="translate(1397,3325)"><rect class="c" width="73" height="65"/><g class="s"><use href="#water"/></g><text class="id" x="10" y="54">C00001</text></g>
<g id="C00147" transform="translate(1494,3300)"><rect class="c" width="93" height="115"/><g class="s" font-size="12"><path d="M57,30L74,40V62L58,72L43,62V40ZM43,40L23,36L14,53L23,70L43,62M57,30V21M60,34L70,40M46,44V58"/><text x="66" y="18">NH<tspan font-size="8" dy="3">2</tspan></text><text x="77" y="45">N</text><text x="60" y="77">N</text><text x="22" y="40">N</text><text x="22" y="75">N</text><text x="22" y="87">H</text></g><text class="id" x="10" y="102">C00147</text></g>
<g id="C00119" transform="translate(1676,3301)"><rect class="c" width="254" height="112"/><g class="s" font-size="13"><path d="M42.5,35V46M45.5,35V46M29,52H38M50,52H58M44,59V65M69,48L78,37L96,42M106,31L96,42L102,62H123L128,40L118,31M102,62L96,70M123,62L127,70M128,40L140,37M152,36H218M166,31V24M206,31V24M164.5,44V53M167.5,44V53M204.5,44V53M207.5,44V53"/><text x="44" y="31">O</text><text x="18" y="56">HO</text><text x="44" y="56">P</text><text x="64" y="56">O</text><text x="48" y="77">OH</text><text x="112" y="33">O</text><text x="86" y="81">HO</text><text x="134" y="81">OH</text><text x="146" y="40">O</text><text x="166" y="40">P</text><text x="186" y="40">O</text><text x="206" y="40">P</text><text x="230" y="40">OH</text><text x="166" y="19">HO</text><text x="206" y="19">HO</text><text x="166" y="64">O</text><text x="206" y="64">O</text></g><text class="id" x="8" y="98">C00119</text></g>
<g id="C00001_7" transform="translate(1211,3585)"><rect class="c" width="73" height="63"/><g class="s"><use href="#water"/></g><text class="id" x="10" y="53">C00001</text></g>
<g id="C00020" transform="translate(1309,3560)"><rect class="c" width="248" height="112"/><g class="s" font-size="13"><path d="M41.5,29V38M44.5,29V38M28,43H37M49,43H57M43,51V56M68,40L80,33L97,38M107,29L97,38L103,61H126L132,38L119,29M103,61L97,68M126,61L130,68M132,38L142,38M146,38L156,22L175,16L181,33L167,47ZM181,33L198,38L200,57L186,70L170,64L167,47M198,38L210,31M159,24L172,20M184,37L195,40"/><text x="43" y="25">O</text><text x="17" y="47">HO</text><text x="43" y="47">P</text><text x="63" y="47">O</text><text x="39" y="70">HO</text><text x="113" y="31">O</text><text x="88" y="79">HO</text><text x="133" y="79">OH</text><text x="147" y="43">N</text><text x="176" y="20">N</text><text x="222" y="34">NH<tspan font-size="8" dy="3">2</tspan></text><text x="203" y="62">N</text><text x="170" y="69">N</text></g><text class="id" x="9" y="98">C00020</text></g>
<g id="C00013" transform="translate(1580,3571)"><rect class="c" width="122" height="90"/><g class="s" font-size="13"><path d="M41.5,21V30M44.5,21V30M78.5,21V30M81.5,21V30M27,36H95M43,43V48M80,43V48"/><text x="43" y="17">O</text><text x="80" y="17">O</text><text x="18" y="41">HO</text><text x="43" y="41">P</text><text x="62" y="41">O</text><text x="80" y="41">P</text><text x="104" y="41">OH</text><text x="47" y="61">OH</text><text x="84" y="61">OH</text></g><text class="id" x="9" y="79">C00013</text></g>
<g id="C00002_box" transform="translate(1267,3817)"><rect class="c" width="332" height="112"/><g class="s" font-size="13"><path d="M26,47H140M44.5,33V42M47.5,33V42M85.5,33V42M88.5,33V42M124.5,33V42M127.5,33V42M46,54V60M87,54V60M126,54V60M152,47L163,35L181,38M191,31L181,38L190,60H210L217,38L203,31M190,60L183,67M210,60L214,67M217,38L228,38M232,38L244,24L258,18L267,32L250,44ZM267,32L286,32L288,56L272,70L252,62L250,44M286,32L296,28M247,26L256,22M270,34L282,34"/><text x="18" y="51">HO</text><text x="46" y="51">P</text><text x="66" y="51">O</text><text x="87" y="51">P</text><text x="107" y="51">O</text><text x="126" y="51">P</text><text x="146" y="51">O</text><text x="46" y="29">O</text><text x="87" y="29">O</text><text x="126" y="29">O</text><text x="42" y="72">HO</text><text x="83" y="72">HO</text><text x="122" y="72">HO</text><text x="197" y="33">O</text><text x="170" y="80">HO</text><text x="218" y="79">OH</text><text x="233" y="43">N</text><text x="259" y="21">N</text><text x="308" y="33">NH<tspan font-size="8" dy="3">2</tspan></text><text x="291" y="61">N</text><text x="253" y="67">N</text></g><text class="id" x="10" y="101">C00002</text></g>
</svg>
